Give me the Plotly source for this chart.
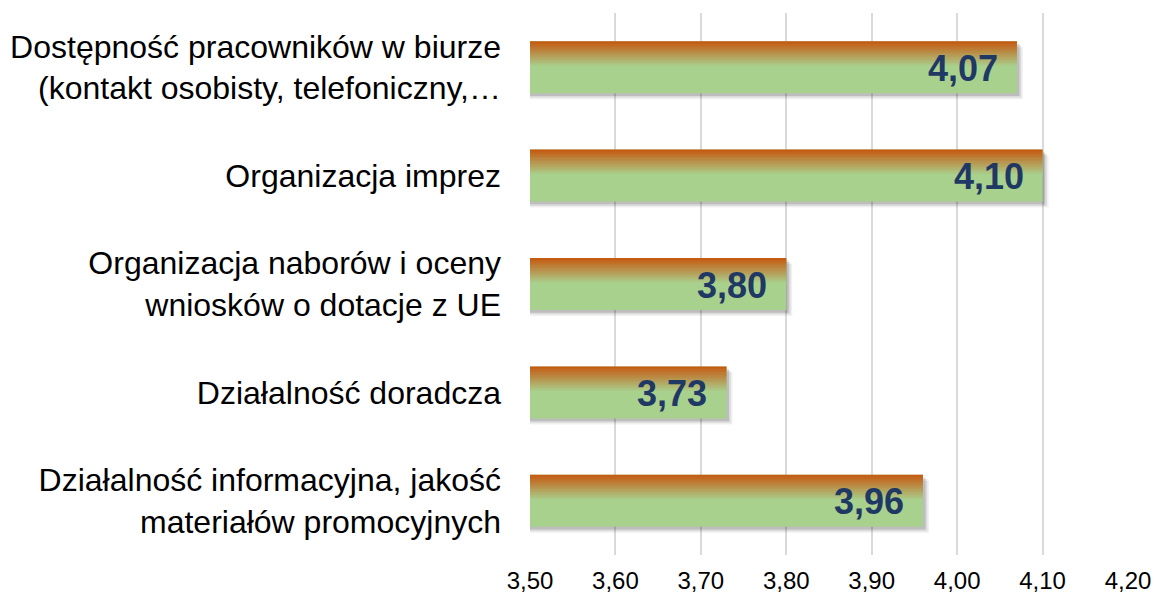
import plotly.graph_objects as go

categories = [
    "Dostępność pracowników w biurze<br>(kontakt osobisty, telefoniczny,…",
    "Organizacja imprez",
    "Organizacja naborów i oceny<br>wniosków o dotacje z UE",
    "Działalność doradcza",
    "Działalność informacyjna, jakość<br>materiałów promocyjnych",
]
values = [4.07, 4.10, 3.80, 3.73, 3.96]
value_labels = ["4,07", "4,10", "3,80", "3,73", "3,96"]
tick_vals = [3.5, 3.6, 3.7, 3.8, 3.9, 4.0, 4.1, 4.2]
tick_text = ["3,50", "3,60", "3,70", "3,80", "3,90", "4,00", "4,10", "4,20"]

FONT = "Liberation Sans, Arial, sans-serif"
ORANGE = (197, 90, 17)
GREEN = (169, 209, 142)
BAR_W = 0.48

fig = go.Figure()

# shadow layers
for dx, dy, a in [(0.007, 0.055, 0.06), (0.005, 0.04, 0.09), (0.003, 0.025, 0.13)]:
    fig.add_trace(go.Bar(
        y=categories, x=[v + dx for v in values], orientation="h",
        width=BAR_W, offset=-BAR_W / 2 + dy,
        marker=dict(color=f"rgba(0,0,0,{a})", line=dict(width=0)),
        hoverinfo="skip", showlegend=False,
    ))

# base green bar
fig.add_trace(go.Bar(
    y=categories, x=values, orientation="h",
    width=BAR_W, offset=-BAR_W / 2,
    marker=dict(color="rgb(%d,%d,%d)" % GREEN, line=dict(width=0)),
    showlegend=False,
))

# gradient strips on the upper part of each bar
N = 18
grad_frac = 0.5
h = BAR_W * grad_frac / N
for i in range(N):
    t = i / (N - 1)
    c = tuple(round(ORANGE[j] + (GREEN[j] - ORANGE[j]) * t) for j in range(3))
    fig.add_trace(go.Bar(
        y=categories, x=values, orientation="h",
        width=h * 1.4, offset=-BAR_W / 2 + i * h,
        marker=dict(color="rgb(%d,%d,%d)" % c, line=dict(width=0)),
        hoverinfo="skip", showlegend=False,
    ))

for cat, v, lab in zip(categories, values, value_labels):
    fig.add_annotation(
        x=v, y=cat, text=f"<b>{lab}</b>", showarrow=False,
        xanchor="right", yanchor="middle", xshift=-17, yshift=-1,
        font=dict(family=FONT, size=36, color="#1F3864"),
    )

fig.update_layout(
    barmode="overlay",
    width=1151, height=594,
    margin=dict(l=522, r=31, t=5, b=47),
    paper_bgcolor="white", plot_bgcolor="white",
    font=dict(family=FONT, color="black"),
    showlegend=False,
    xaxis=dict(
        range=[3.5, 4.2], tickvals=tick_vals, ticktext=tick_text,
        showgrid=True, gridcolor="#D9D9D9", gridwidth=1.5,
        zeroline=False, showline=False, automargin=False,
        tickfont=dict(family=FONT, size=24, color="black"),
        ticklabelstandoff=9,
    ),
    yaxis=dict(
        categoryorder="array", categoryarray=categories,
        autorange="reversed", showgrid=False, zeroline=False,
        automargin=False,
        tickfont=dict(family=FONT, size=32, color="black"),
        ticklabelstandoff=28,
    ),
)

fig.write_html("out.html")
